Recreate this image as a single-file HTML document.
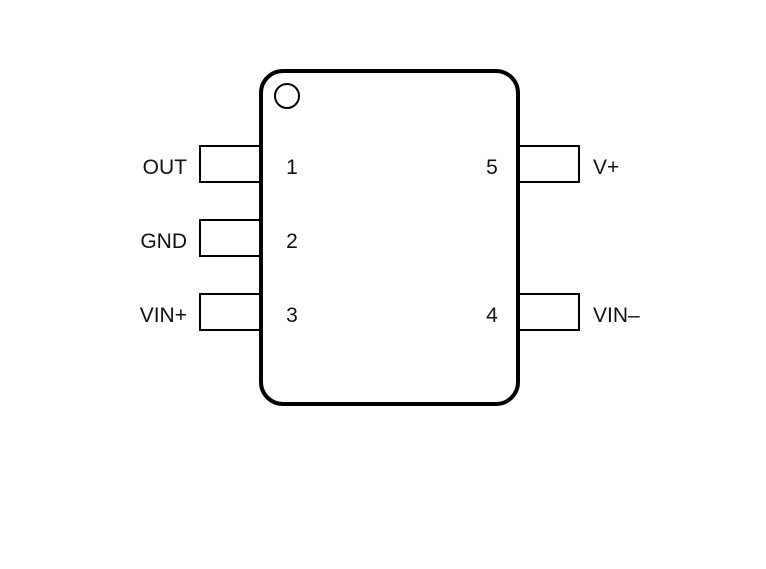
<!DOCTYPE html>
<html><head><style>body{margin:0;background:#fff}</style></head><body>
<svg width="766" height="564" xmlns="http://www.w3.org/2000/svg" font-family="Liberation Sans, sans-serif" font-size="21" fill="#111">
<g fill="none" stroke="#000" stroke-width="2">
<path d="M261 146 H200 V182 H261"/>
<path d="M261 220 H200 V256 H261"/>
<path d="M261 294 H200 V330 H261"/>
<path d="M518 146 H579 V182 H518"/>
<path d="M518 294 H579 V330 H518"/>
<circle cx="287" cy="96" r="12"/>
</g>
<rect x="261" y="71" width="257" height="333" rx="22" fill="none" stroke="#000" stroke-width="4"/>
<g text-anchor="end">
<text x="187" y="174">OUT</text>
<text x="187" y="248">GND</text>
<text x="187" y="322">VIN+</text>
</g>
<g text-anchor="middle">
<text x="292" y="174">1</text>
<text x="292" y="248">2</text>
<text x="292" y="322">3</text>
<text x="492" y="174">5</text>
<text x="492" y="322">4</text>
</g>
<text x="593" y="174">V+</text>
<text x="593" y="322">VIN–</text>
</svg>
</body></html>
